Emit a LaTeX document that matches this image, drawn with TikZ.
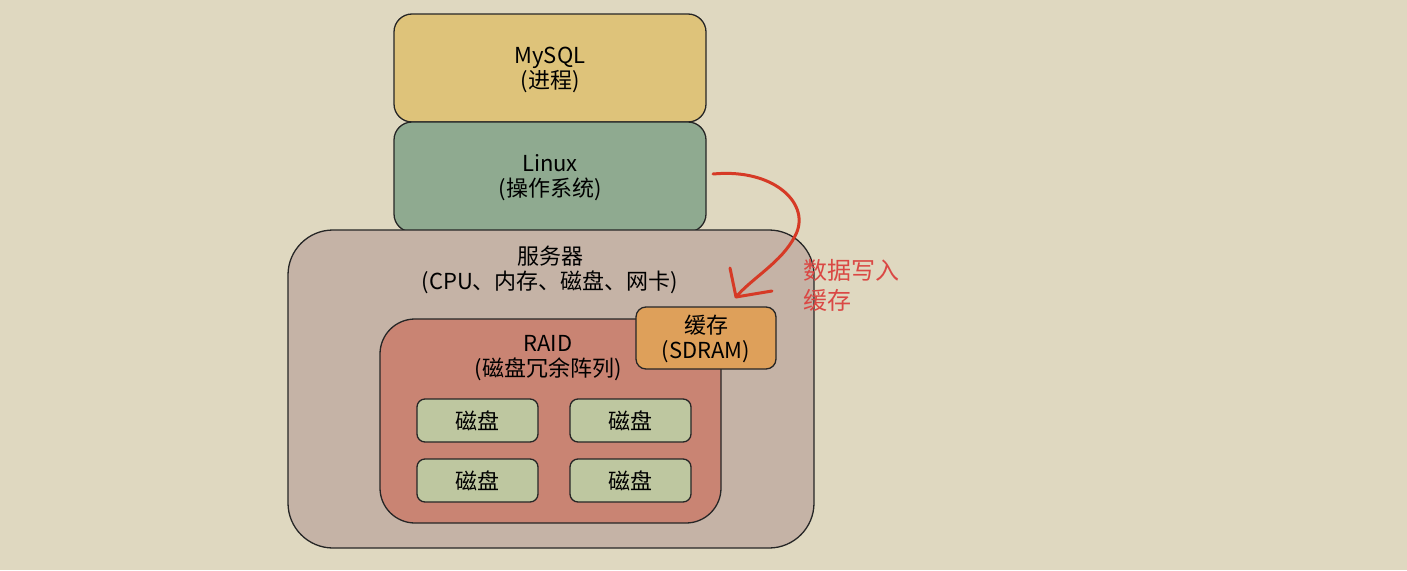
\documentclass[tikz,border=0pt]{standalone}
\usepackage{fontspec}
\setmainfont{Noto Sans CJK SC}
\usepackage{xcolor}
\usepackage{tikz}
\usetikzlibrary{positioning}

\definecolor{bgcol}{RGB}{223,216,192}
\definecolor{mysqlcol}{RGB}{222,195,122}
\definecolor{linuxcol}{RGB}{143,170,144}
\definecolor{servercol}{RGB}{197,179,166}
\definecolor{raidcol}{RGB}{201,132,115}
\definecolor{cachecol}{RGB}{222,160,90}
\definecolor{diskcol}{RGB}{190,199,160}
\definecolor{penred}{RGB}{214,58,38}
\definecolor{notered}{RGB}{218,72,68}

\tikzset{
    box/.style = {draw = black!85, line width = 1.3pt, inner sep = 0pt},
    txt/.style = {align = center, font = \fontsize{22}{25}\selectfont},
}

\begin{document}
\begin{tikzpicture}[x = 1pt, y = -1pt]
            \fill[bgcol] (0, 0) rectangle (1407, 570);
            \useasboundingbox (0, 0) rectangle (1407, 570);

            % stack
            \filldraw[box, fill = mysqlcol, rounded corners = 18pt] (394, 14) rectangle (706, 122);
            \filldraw[box, fill = linuxcol, rounded corners = 18pt] (394, 122) rectangle (706, 232);
            \filldraw[box, fill = servercol, rounded corners = 45pt] (288, 230) rectangle (814, 548);
            \filldraw[box, fill = raidcol, rounded corners = 35pt] (380, 319) rectangle (721, 523);
            \filldraw[box, fill = cachecol, rounded corners = 10pt] (636, 307) rectangle (776, 369);

            \node[txt] (mysql) at (550, 70) {MySQL\\(进程)};
            \node[txt] (linux) at (550, 178) {Linux\\(操作系统)};
            \node[txt] (server) at (550, 270) {服务器\\(CPU、内存、磁盘、网卡)};
            \node[txt] (raid) at (548, 358) {RAID\\(磁盘冗余阵列)};
            \node[txt] (cache) at (706, 339) {缓存\\(SDRAM)};

            % disks
            \foreach \x/\y [count = \i] in {417/399, 570/399, 417/459, 570/459} {
                \filldraw[box, fill = diskcol, rounded corners = 8pt] (\x, \y) rectangle +(121, 43);
                \node[txt] (disk\i) at (\x + 60.5, \y + 21.5) {磁盘};
            }

            % hand drawn arrow
            \coordinate (penstart) at (713, 174);
            \coordinate (pentip) at (736, 297);
            \draw[penred, line width = 3pt, line cap = round, line join = round]
                (penstart) .. controls (775, 168) and (812, 205) .. (795, 236)
                .. controls (782, 262) and (752, 278) .. (pentip);
            \draw[penred, line width = 3pt, line cap = round, line join = round]
                (730, 268) -- (pentip) -- (772, 291);
            \node[txt, text = notered, align = left, anchor = west,
                font = \fontsize{24}{30}\selectfont] (note) at (800, 285) {数据写入\\缓存};
        \end{tikzpicture}
\end{document}
